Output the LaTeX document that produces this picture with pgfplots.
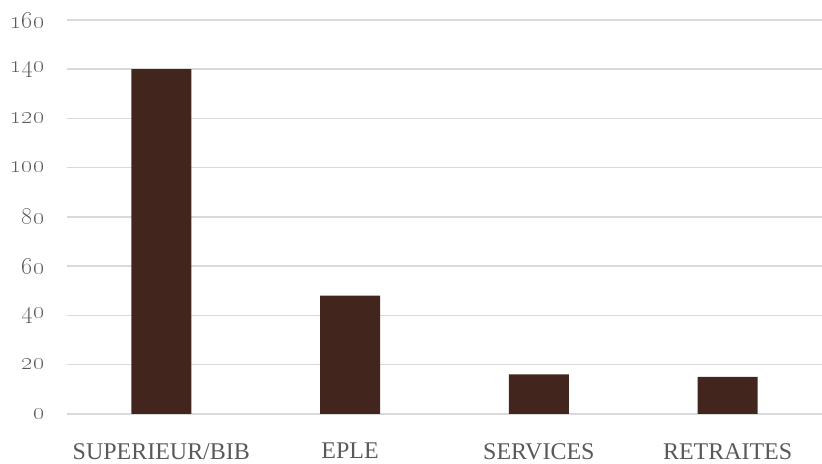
\documentclass[border=0pt]{standalone}
\usepackage[no-math]{fontspec}
\setmainfont{Liberation Serif}
\usepackage{pgfplots}
\pgfplotsset{compat=1.18}
\definecolor{barbrown}{HTML}{42261E}
\definecolor{labgray}{HTML}{595959}
\definecolor{gridgray}{HTML}{D9D9D9}
% old-style figures for the value axis
\newcommand\osf[1]{{\usefont{TS1}{lmr}{m}{n}#1}}
\begin{document}
\begin{tikzpicture}
\path[use as bounding box] (-67pt,-49.7pt) rectangle (756pt,414.3pt);
\begin{axis}[
  at={(0,0)}, anchor=south west,
  scale only axis,
  width=756pt, height=394.3pt,
  xmin=-0.5, xmax=3.5,
  ymin=0, ymax=160,
  axis line style={draw=none},
  ytick={0,20,...,160},
  yticklabels={\osf{0},\osf{20},\osf{40},\osf{60},\osf{80},\osf{100},\osf{120},\osf{140},\osf{160}},
  xtick={0,1,2,3},
  xticklabels={SUPERIEUR/BIB,EPLE,SERVICES,RETRAITES},
  major tick length=0pt,
  tick style={draw=none},
  ymajorgrids=true,
  grid style={color=gridgray, line width=1.5pt},
  y tick label style={font=\fontsize{26}{30}\selectfont, text=labgray, xshift=-19pt},
  x tick label style={font=\fontsize{24}{28}\selectfont, text=labgray, yshift=-26pt},
  ybar, bar width=60pt,
  clip=false,
]
\addplot[fill=barbrown, draw=none] coordinates {(0,140) (1,48) (2,16) (3,15)};
\end{axis}
\end{tikzpicture}
\end{document}
